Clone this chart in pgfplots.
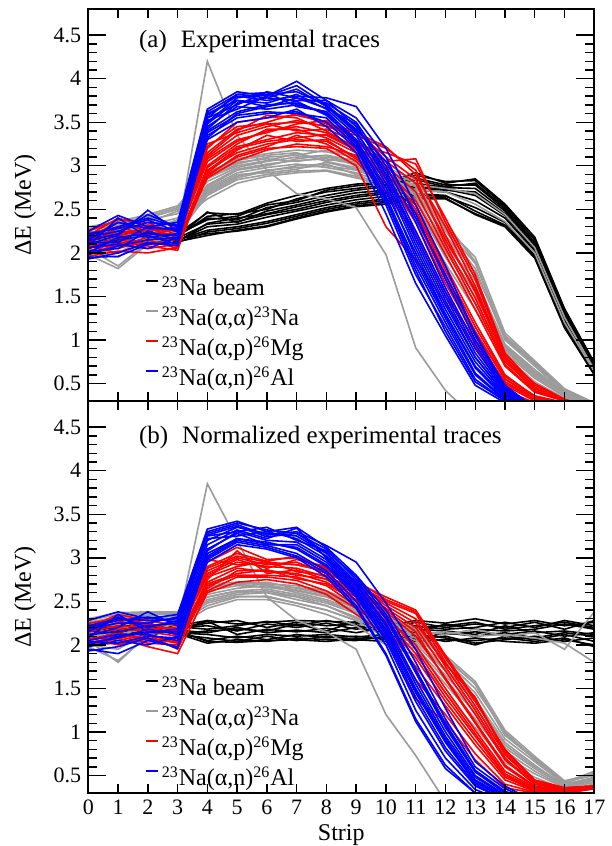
\documentclass[border=0pt]{standalone}
\usepackage{fontspec}
\setmainfont{Liberation Serif}
\usepackage{pgfplots}
\usepackage{pgfplotstable}
\pgfplotsset{compat=1.18}

\definecolor{gr}{RGB}{155,155,155}

% beam traces, one column per event
\pgfplotstableread{
x b1 b2 b3 b4 b5 b6 b7 b8 b9 b10 b11 b12
0 2.12 2.18 2.10 2.21 2.15 2.08 2.22 2.14 2.17 2.11 2.19 2.16
1 2.16 2.12 2.20 2.14 2.22 2.10 2.18 2.25 2.13 2.17 2.09 2.21
2 2.20 2.15 2.24 2.12 2.18 2.26 2.10 2.16 2.22 2.19 2.14 2.23
3 2.15 2.20 2.13 2.22 2.17 2.12 2.19 2.14 2.21 2.16 2.18 2.13
4 2.26 2.40 2.20 2.46 2.33 2.24 2.42 2.30 2.38 2.22 2.47 2.34
5 2.30 2.38 2.26 2.44 2.36 2.28 2.45 2.33 2.42 2.25 2.35 2.40
6 2.36 2.52 2.31 2.57 2.44 2.34 2.50 2.41 2.55 2.30 2.48 2.45
7 2.44 2.58 2.40 2.66 2.50 2.42 2.62 2.48 2.60 2.39 2.55 2.53
8 2.52 2.66 2.48 2.74 2.58 2.50 2.70 2.55 2.72 2.47 2.63 2.60
9 2.58 2.72 2.54 2.79 2.64 2.56 2.74 2.61 2.77 2.53 2.69 2.66
10 2.62 2.76 2.58 2.81 2.68 2.60 2.78 2.65 2.80 2.56 2.72 2.70
11 2.68 2.84 2.64 2.92 2.75 2.66 2.86 2.72 2.89 2.62 2.80 2.77
12 2.66 2.76 2.63 2.80 2.72 2.65 2.78 2.70 2.82 2.62 2.75 2.73
13 2.48 2.80 2.44 2.85 2.70 2.52 2.78 2.60 2.83 2.45 2.74 2.66
14 2.32 2.52 2.30 2.56 2.45 2.35 2.50 2.40 2.54 2.31 2.48 2.43
15 1.96 2.12 1.94 2.18 2.06 1.97 2.10 2.02 2.15 1.95 2.08 2.04
16 1.16 1.32 1.14 1.36 1.25 1.19 1.30 1.22 1.34 1.15 1.28 1.24
17 0.62 0.71 0.60 0.74 0.67 0.63 0.70 0.65 0.73 0.61 0.69 0.66
}\blkA

\pgfplotstableread{
x b1 b2 b3 b4 b5 b6 b7 b8 b9 b10 b11 b12
0 2.12 2.18 2.10 2.21 2.15 2.08 2.22 2.14 2.17 2.11 2.19 2.16
1 2.16 2.12 2.20 2.14 2.22 2.10 2.18 2.25 2.13 2.17 2.09 2.21
2 2.20 2.15 2.24 2.12 2.18 2.26 2.10 2.16 2.22 2.19 2.14 2.23
3 2.15 2.20 2.13 2.22 2.17 2.12 2.19 2.14 2.21 2.16 2.18 2.13
4 2.05 2.22 2.02 2.28 2.14 2.08 2.25 2.12 2.18 2.04 2.27 2.16
5 2.10 2.16 2.06 2.24 2.20 2.04 2.28 2.08 2.22 2.03 2.12 2.18
6 2.06 2.24 2.04 2.26 2.14 2.10 2.20 2.12 2.27 2.05 2.18 2.16
7 2.12 2.20 2.08 2.28 2.17 2.05 2.26 2.10 2.22 2.06 2.15 2.24
8 2.08 2.25 2.06 2.27 2.14 2.10 2.22 2.12 2.28 2.04 2.19 2.16
9 2.10 2.18 2.05 2.26 2.20 2.06 2.24 2.09 2.22 2.07 2.14 2.27
10 2.06 2.24 2.10 2.22 2.14 2.04 2.27 2.12 2.18 2.08 2.20 2.16
11 2.12 2.20 2.04 2.28 2.16 2.08 2.22 2.06 2.26 2.10 2.14 2.18
12 2.08 2.22 2.06 2.25 2.12 2.10 2.18 2.14 2.20 2.04 2.24 2.16
13 2.00 2.26 2.05 2.30 2.15 2.02 2.20 2.10 2.24 2.08 2.18 2.12
14 2.10 2.18 2.08 2.24 2.12 2.06 2.26 2.14 2.20 2.04 2.16 2.22
15 2.06 2.22 2.04 2.28 2.16 2.10 2.20 2.08 2.26 2.02 2.18 2.14
16 2.12 2.26 2.08 2.22 2.10 2.04 2.28 2.14 2.18 2.06 2.24 2.16
17 2.04 2.20 1.98 2.26 2.14 2.08 2.22 2.10 2.28 2.00 2.18 2.12
}\blkB

\pgfplotsset{
  panel/.style={
    scale only axis, width=253pt, height=196pt,
    xmin=0, xmax=17, ymin=0.3, ymax=4.8,
    xtick={0,1,...,17},
    ytick={0.5,1,1.5,2,2.5,3,3.5,4,4.5},
    minor y tick num=4,
    tick align=inside,
    axis on top,
    axis line style={line width=1.1pt},
    every tick/.style={black, line width=0.7pt},
    major tick length=4.5pt, minor tick length=4.5pt,
    ytick style={/pgfplots/major tick length=9pt},
    /pgf/number format/assume math mode=true,
    tick label style={font=\fontsize{11}{13}\selectfont},
    ylabel={ΔE (MeV)},
    ylabel style={at={(axis description cs:-0.125,0.5)}, anchor=center, font=\fontsize{12}{14}\selectfont},
    legend cell align=left,
    legend image code/.code={\draw[#1] (0pt,3.6pt) -- (5.8pt,3.6pt);},
    legend style={draw=none, fill=none, inner sep=0pt, row sep=2.5pt, column sep=1.5pt,
      font=\fontsize{12}{14}\selectfont,
      nodes={inner sep=0pt, text height=10pt, text depth=2.5pt}},
  },
  blk/.style={black, line width=0.8pt, forget plot},
  gry/.style={gr, line width=0.8pt, forget plot},
  rd/.style={red, line width=0.8pt, forget plot},
  bl/.style={blue, line width=0.8pt, forget plot},
  leg/.style={line width=1pt},
}

\begin{document}
\begin{tikzpicture}
\path[use as bounding box] (-44.15pt,4.5pt) rectangle (261.35pt,-418.5pt);

% ---------------- panel (a)
\begin{axis}[panel, at={(0pt,0pt)}, anchor=north west,
  xticklabels={},
  legend style={at={(axis cs:1.9,1.74)}, anchor=north west}]
\pgfplotsinvokeforeach{1,...,12}{\addplot[blk] table[x=x, y=b#1] {\blkA};}
% elastic
\addplot[gry] coordinates {(0,2.05)(1,1.85)(2,2.12)(3,2.22)(4,4.20)(5,3.35)(6,2.95)(7,2.68)(8,2.62)(9,2.52)(10,1.98)(11,0.91)(12,0.42)(13,0.10)};
\addplot[gry] coordinates {(0,2.20)(1,2.26)(2,2.30)(3,2.36)(4,2.62)(5,2.80)(6,2.88)(7,2.92)(8,2.94)(9,2.86)(10,2.80)(11,2.78)(12,2.74)(13,2.68)(14,2.44)(15,2.06)(16,1.26)(17,0.66)};
\addplot[gry] coordinates {(0,2.10)(1,2.15)(2,2.22)(3,2.28)(4,2.68)(5,2.86)(6,2.94)(7,3.00)(8,3.02)(9,2.90)(10,2.76)(11,2.72)(12,2.70)(13,2.56)(14,2.36)(15,2.00)(16,1.20)(17,0.64)};
\addplot[gry] coordinates {(0,2.30)(1,2.36)(2,2.44)(3,2.54)(4,2.92)(5,3.08)(6,3.14)(7,3.18)(8,3.16)(9,3.10)(10,2.96)(11,2.80)(12,2.30)(13,1.95)(14,1.08)(15,0.76)(16,0.44)(17,0.28)};
\addplot[gry] coordinates {(0,2.28)(1,2.34)(2,2.42)(3,2.52)(4,2.85)(5,3.02)(6,3.10)(7,3.12)(8,3.18)(9,3.12)(10,2.98)(11,2.84)(12,2.35)(13,1.90)(14,1.02)(15,0.72)(16,0.42)(17,0.26)};
\addplot[gry] coordinates {(0,2.15)(1,2.05)(2,2.28)(3,2.35)(4,2.78)(5,2.96)(6,3.02)(7,3.06)(8,3.08)(9,3.02)(10,2.90)(11,2.70)(12,2.18)(13,1.72)(14,0.95)(15,0.66)(16,0.40)(17,0.24)};
\addplot[gry] coordinates {(0,2.00)(1,1.95)(2,2.15)(3,2.25)(4,2.70)(5,2.88)(6,2.95)(7,2.98)(8,3.00)(9,2.95)(10,2.82)(11,2.60)(12,2.05)(13,1.55)(14,0.90)(15,0.60)(16,0.38)(17,0.22)};
\addplot[gry] coordinates {(0,2.22)(1,2.30)(2,2.38)(3,2.45)(4,2.88)(5,3.04)(6,3.08)(7,3.05)(8,3.10)(9,3.04)(10,2.92)(11,2.76)(12,2.25)(13,1.82)(14,1.00)(15,0.70)(16,0.40)(17,0.25)};
\addplot[gry] coordinates {(0,2.08)(1,2.12)(2,2.20)(3,2.30)(4,2.74)(5,2.92)(6,2.98)(7,3.02)(8,2.98)(9,2.92)(10,2.80)(11,2.55)(12,1.95)(13,1.42)(14,0.85)(15,0.56)(16,0.35)(17,0.20)};
\addplot[gry] coordinates {(0,1.98)(1,1.82)(2,2.10)(3,2.22)(4,2.66)(5,2.84)(6,2.90)(7,2.94)(8,2.95)(9,2.88)(10,2.72)(11,2.48)(12,1.88)(13,1.35)(14,0.82)(15,0.52)(16,0.33)(17,0.18)};
\addplot[gry] coordinates {(0,2.18)(1,2.24)(2,2.32)(3,2.40)(4,2.82)(5,2.98)(6,3.05)(7,3.10)(8,3.12)(9,3.06)(10,2.94)(11,2.65)(12,2.12)(13,1.62)(14,0.92)(15,0.62)(16,0.38)(17,0.24)};
\addplot[gry] coordinates {(0,2.25)(1,2.20)(2,2.35)(3,2.48)(4,2.90)(5,3.06)(6,3.12)(7,3.15)(8,3.05)(9,2.98)(10,2.86)(11,2.72)(12,2.20)(13,1.78)(14,1.05)(15,0.74)(16,0.43)(17,0.27)};
\addplot[gry] coordinates {(0,2.12)(1,2.18)(2,2.26)(3,2.38)(4,2.76)(5,2.95)(6,3.00)(7,3.08)(8,3.12)(9,3.00)(10,2.84)(11,2.62)(12,2.02)(13,1.50)(14,0.88)(15,0.58)(16,0.36)(17,0.21)};
\addplot[gry] coordinates {(0,2.26)(1,2.32)(2,2.40)(3,2.50)(4,2.86)(5,3.00)(6,3.06)(7,3.14)(8,3.06)(9,3.08)(10,2.90)(11,2.78)(12,2.28)(13,1.88)(14,1.04)(15,0.74)(16,0.42)(17,0.26)};
\addplot[gry] coordinates {(0,2.04)(1,2.00)(2,2.18)(3,2.28)(4,2.72)(5,2.90)(6,2.92)(7,2.96)(8,3.04)(9,2.96)(10,2.86)(11,2.68)(12,2.10)(13,1.68)(14,0.94)(15,0.64)(16,0.39)(17,0.23)};
% (alpha,p)
\addplot[rd] coordinates {(0,2.20)(1,2.40)(2,2.30)(3,2.25)(4,3.20)(5,3.50)(6,3.55)(7,3.58)(8,3.50)(9,3.30)(10,3.05)(11,3.08)(12,2.35)(13,1.70)(14,0.82)(15,0.45)(16,0.30)(17,0.20)};
\addplot[rd] coordinates {(0,2.10)(1,2.05)(2,2.15)(3,2.05)(4,2.95)(5,3.15)(6,3.25)(7,3.30)(8,3.28)(9,3.10)(10,2.80)(11,2.45)(12,1.85)(13,1.20)(14,0.60)(15,0.35)(16,0.28)(17,0.20)};
\addplot[rd] coordinates {(0,2.25)(1,2.38)(2,2.35)(3,2.20)(4,3.10)(5,3.35)(6,3.45)(7,3.52)(8,3.45)(9,3.35)(10,3.20)(11,2.95)(12,2.20)(13,1.55)(14,0.78)(15,0.42)(16,0.30)(17,0.20)};
\addplot[rd] coordinates {(0,1.98)(1,2.10)(2,2.05)(3,2.10)(4,2.90)(5,3.10)(6,3.20)(7,3.22)(8,3.20)(9,3.00)(10,2.30)(11,1.92)(12,1.42)(13,0.92)(14,0.42)(15,0.28)(16,0.25)(17,0.20)};
\addplot[rd] coordinates {(0,2.15)(1,2.22)(2,2.28)(3,2.18)(4,3.05)(5,3.28)(6,3.40)(7,3.45)(8,3.38)(9,3.22)(10,2.95)(11,2.60)(12,1.98)(13,1.35)(14,0.70)(15,0.40)(16,0.30)(17,0.20)};
\addplot[rd] coordinates {(0,2.05)(1,2.15)(2,2.10)(3,2.12)(4,2.98)(5,3.22)(6,3.30)(7,3.38)(8,3.35)(9,3.18)(10,2.88)(11,2.35)(12,1.65)(13,1.05)(14,0.50)(15,0.32)(16,0.27)(17,0.20)};
\addplot[rd] coordinates {(0,2.22)(1,2.30)(2,2.20)(3,2.28)(4,3.15)(5,3.42)(6,3.50)(7,3.60)(8,3.48)(9,3.40)(10,3.10)(11,2.85)(12,2.10)(13,1.48)(14,0.75)(15,0.44)(16,0.31)(17,0.20)};
\addplot[rd] coordinates {(0,2.00)(1,2.08)(2,2.18)(3,2.15)(4,2.92)(5,3.18)(6,3.35)(7,3.28)(8,3.30)(9,3.08)(10,2.75)(11,2.25)(12,1.55)(13,0.98)(14,0.48)(15,0.30)(16,0.26)(17,0.20)};
\addplot[rd] coordinates {(0,2.18)(1,2.35)(2,2.25)(3,2.30)(4,3.25)(5,3.38)(6,3.48)(7,3.40)(8,3.42)(9,3.28)(10,3.00)(11,2.70)(12,2.05)(13,1.42)(14,0.72)(15,0.41)(16,0.30)(17,0.20)};
\addplot[rd] coordinates {(0,2.08)(1,2.00)(2,2.12)(3,2.08)(4,2.88)(5,3.12)(6,3.22)(7,3.35)(8,3.25)(9,3.05)(10,2.70)(11,2.20)(12,1.50)(13,1.00)(14,0.52)(15,0.33)(16,0.27)(17,0.20)};
\addplot[rd] coordinates {(0,2.12)(1,2.25)(2,2.22)(3,2.22)(4,3.08)(5,3.30)(6,3.38)(7,3.48)(8,3.52)(9,3.25)(10,3.15)(11,3.02)(12,2.40)(13,1.75)(14,0.85)(15,0.48)(16,0.32)(17,0.20)};
\addplot[rd] coordinates {(0,2.02)(1,2.12)(2,2.08)(3,2.03)(4,3.00)(5,3.25)(6,3.42)(7,3.42)(8,3.32)(9,3.15)(10,2.90)(11,2.55)(12,1.80)(13,1.15)(14,0.58)(15,0.36)(16,0.28)(17,0.20)};
\addplot[rd] coordinates {(0,2.16)(1,2.28)(2,2.32)(3,2.24)(4,3.22)(5,3.45)(6,3.48)(7,3.50)(8,3.46)(9,3.38)(10,3.22)(11,2.90)(12,2.30)(13,1.62)(14,0.80)(15,0.50)(16,0.32)(17,0.22)};
\addplot[rd] coordinates {(0,2.06)(1,2.18)(2,2.10)(3,2.16)(4,2.86)(5,3.06)(6,3.18)(7,3.25)(8,3.22)(9,3.12)(10,2.98)(11,2.50)(12,1.75)(13,1.10)(14,0.55)(15,0.34)(16,0.28)(17,0.20)};
\addplot[rd] coordinates {(0,2.24)(1,2.20)(2,2.26)(3,2.26)(4,3.12)(5,3.40)(6,3.58)(7,3.55)(8,3.40)(9,3.20)(10,2.85)(11,2.40)(12,1.70)(13,1.08)(14,0.55)(15,0.35)(16,0.28)(17,0.20)};
\addplot[rd] coordinates {(0,1.96)(1,2.02)(2,2.00)(3,2.06)(4,2.94)(5,3.20)(6,3.28)(7,3.32)(8,3.36)(9,3.20)(10,3.05)(11,2.80)(12,2.15)(13,1.58)(14,0.78)(15,0.46)(16,0.31)(17,0.20)};
% (alpha,n)
\addplot[bl] coordinates {(0,2.25)(1,2.43)(2,2.30)(3,2.35)(4,3.65)(5,3.85)(6,3.80)(7,3.97)(8,3.75)(9,3.45)(10,2.95)(11,2.25)(12,1.55)(13,0.90)(14,0.42)(15,0.20)};
\addplot[bl] coordinates {(0,1.95)(1,1.96)(2,2.10)(3,2.12)(4,3.35)(5,3.55)(6,3.60)(7,3.62)(8,3.50)(9,3.20)(10,2.55)(11,1.75)(12,1.15)(13,0.55)(14,0.30)(15,0.20)};
\addplot[bl] coordinates {(0,2.10)(1,2.20)(2,2.49)(3,2.25)(4,3.50)(5,3.78)(6,3.82)(7,3.85)(8,3.70)(9,3.40)(10,2.85)(11,2.10)(12,1.40)(13,0.80)(14,0.38)(15,0.20)};
\addplot[bl] coordinates {(0,2.05)(1,2.15)(2,2.20)(3,2.10)(4,3.40)(5,3.62)(6,3.70)(7,3.72)(8,3.60)(9,3.25)(10,2.65)(11,1.90)(12,1.25)(13,0.62)(14,0.32)(15,0.20)};
\addplot[bl] coordinates {(0,2.20)(1,2.30)(2,2.40)(3,2.30)(4,3.58)(5,3.80)(6,3.75)(7,3.80)(8,3.78)(9,3.68)(10,3.20)(11,2.55)(12,1.85)(13,1.05)(14,0.48)(15,0.22)};
\addplot[bl] coordinates {(0,1.98)(1,2.08)(2,2.15)(3,2.18)(4,3.30)(5,3.50)(6,3.55)(7,3.65)(8,3.45)(9,3.15)(10,2.45)(11,1.65)(12,1.05)(13,0.48)(14,0.28)(15,0.20)};
\addplot[bl] coordinates {(0,2.15)(1,2.35)(2,2.28)(3,2.28)(4,3.55)(5,3.70)(6,3.85)(7,3.78)(8,3.72)(9,3.50)(10,3.00)(11,2.35)(12,1.60)(13,0.95)(14,0.44)(15,0.21)};
\addplot[bl] coordinates {(0,2.02)(1,2.05)(2,2.25)(3,2.15)(4,3.45)(5,3.68)(6,3.65)(7,3.70)(8,3.62)(9,3.30)(10,2.70)(11,2.00)(12,1.30)(13,0.70)(14,0.35)(15,0.20)};
\addplot[bl] coordinates {(0,2.18)(1,2.25)(2,2.35)(3,2.32)(4,3.62)(5,3.82)(6,3.78)(7,3.88)(8,3.68)(9,3.38)(10,2.90)(11,2.20)(12,1.50)(13,0.85)(14,0.40)(15,0.20)};
\addplot[bl] coordinates {(0,1.93)(1,2.00)(2,2.12)(3,2.08)(4,3.38)(5,3.58)(6,3.62)(7,3.60)(8,3.55)(9,3.22)(10,2.60)(11,1.80)(12,1.10)(13,0.52)(14,0.30)(15,0.20)};
\addplot[bl] coordinates {(0,2.08)(1,2.40)(2,2.18)(3,2.22)(4,3.48)(5,3.75)(6,3.72)(7,3.82)(8,3.65)(9,3.35)(10,2.80)(11,2.05)(12,1.35)(13,0.75)(14,0.36)(15,0.20)};
\addplot[bl] coordinates {(0,2.12)(1,2.12)(2,2.30)(3,2.26)(4,3.52)(5,3.65)(6,3.80)(7,3.92)(8,3.70)(9,3.42)(10,3.05)(11,2.45)(12,1.70)(13,1.00)(14,0.46)(15,0.22)};
\addplot[bl] coordinates {(0,2.00)(1,2.18)(2,2.22)(3,2.20)(4,3.42)(5,3.72)(6,3.78)(7,3.75)(8,3.75)(9,3.55)(10,3.10)(11,2.40)(12,1.75)(13,1.08)(14,0.45)(15,0.22)};
\addplot[bl] coordinates {(0,2.22)(1,2.28)(2,2.38)(3,2.24)(4,3.60)(5,3.75)(6,3.68)(7,3.74)(8,3.58)(9,3.28)(10,2.62)(11,1.85)(12,1.20)(13,0.60)(14,0.31)(15,0.20)};
\addplot[bl] coordinates {(0,2.06)(1,2.10)(2,2.05)(3,2.18)(4,3.32)(5,3.60)(6,3.68)(7,3.78)(8,3.66)(9,3.48)(10,2.90)(11,2.15)(12,1.45)(13,0.80)(14,0.38)(15,0.20)};
\addplot[bl] coordinates {(0,2.14)(1,2.22)(2,2.44)(3,2.30)(4,3.55)(5,3.82)(6,3.84)(7,3.68)(8,3.62)(9,3.30)(10,2.75)(11,1.95)(12,1.28)(13,0.68)(14,0.33)(15,0.20)};
\addlegendimage{black, leg}
\addlegendentry{\textsuperscript{23}Na beam}
\addlegendimage{gr, leg}
\addlegendentry{\textsuperscript{23}Na(α,α)\textsuperscript{23}Na}
\addlegendimage{red, leg}
\addlegendentry{\textsuperscript{23}Na(α,p)\textsuperscript{26}Mg}
\addlegendimage{blue, leg}
\addlegendentry{\textsuperscript{23}Na(α,n)\textsuperscript{26}Al}
\node[anchor=base west, font=\fontsize{12.5}{14}\selectfont] at (axis cs:1.47,4.36) {(a)\hspace{7pt}Experimental traces};
\end{axis}

% ---------------- panel (b)
\begin{axis}[panel, at={(0pt,-196pt)}, anchor=north west,
  xlabel={Strip},
  xlabel style={at={(axis description cs:0.5,0)}, anchor=base, yshift=-23.9pt, font=\fontsize{12}{14}\selectfont},
  legend style={at={(axis cs:1.9,1.65)}, anchor=north west}]
\pgfplotsinvokeforeach{1,...,12}{\addplot[blk] table[x=x, y=b#1] {\blkB};}
% elastic
\addplot[gry] coordinates {(0,2.05)(1,1.80)(2,2.12)(3,2.22)(4,3.85)(5,3.20)(6,2.55)(7,2.28)(8,2.15)(9,1.95)(10,1.20)(11,0.73)(12,0.20)};
\addplot[gry] coordinates {(0,2.20)(1,2.25)(2,2.30)(3,2.34)(4,2.55)(5,2.62)(6,2.60)(7,2.55)(8,2.45)(9,2.30)(10,2.20)(11,2.16)(12,2.12)(13,2.18)(14,2.10)(15,2.14)(16,1.95)(17,2.38)};
\addplot[gry] coordinates {(0,2.10)(1,2.15)(2,2.22)(3,2.26)(4,2.48)(5,2.56)(6,2.55)(7,2.48)(8,2.40)(9,2.28)(10,2.18)(11,2.12)(12,2.15)(13,2.10)(14,2.12)(15,2.08)(16,2.02)(17,1.80)};
\addplot[gry] coordinates {(0,2.30)(1,2.37)(2,2.38)(3,2.38)(4,2.70)(5,2.72)(6,2.70)(7,2.68)(8,2.62)(9,2.48)(10,2.30)(11,2.18)(12,1.88)(13,1.58)(14,1.02)(15,0.72)(16,0.44)(17,0.52)};
\addplot[gry] coordinates {(0,2.28)(1,2.35)(2,2.36)(3,2.37)(4,2.65)(5,2.70)(6,2.72)(7,2.65)(8,2.58)(9,2.45)(10,2.32)(11,2.20)(12,1.85)(13,1.55)(14,0.98)(15,0.70)(16,0.42)(17,0.55)};
\addplot[gry] coordinates {(0,2.15)(1,2.05)(2,2.28)(3,2.35)(4,2.55)(5,2.62)(6,2.64)(7,2.58)(8,2.50)(9,2.38)(10,2.18)(11,2.05)(12,1.70)(13,1.35)(14,0.85)(15,0.60)(16,0.40)(17,0.48)};
\addplot[gry] coordinates {(0,2.00)(1,1.95)(2,2.15)(3,2.25)(4,2.45)(5,2.55)(6,2.56)(7,2.48)(8,2.40)(9,2.28)(10,2.08)(11,1.95)(12,1.55)(13,1.15)(14,0.72)(15,0.52)(16,0.36)(17,0.42)};
\addplot[gry] coordinates {(0,2.22)(1,2.30)(2,2.34)(3,2.36)(4,2.62)(5,2.68)(6,2.66)(7,2.62)(8,2.55)(9,2.42)(10,2.25)(11,2.12)(12,1.78)(13,1.45)(14,0.92)(15,0.66)(16,0.40)(17,0.46)};
\addplot[gry] coordinates {(0,2.08)(1,2.12)(2,2.20)(3,2.30)(4,2.50)(5,2.58)(6,2.60)(7,2.52)(8,2.45)(9,2.32)(10,2.12)(11,1.98)(12,1.60)(13,1.22)(14,0.78)(15,0.55)(16,0.37)(17,0.44)};
\addplot[gry] coordinates {(0,1.98)(1,1.82)(2,2.10)(3,2.22)(4,2.42)(5,2.52)(6,2.52)(7,2.45)(8,2.35)(9,2.22)(10,2.00)(11,1.88)(12,1.45)(13,1.05)(14,0.65)(15,0.48)(16,0.34)(17,0.40)};
\addplot[gry] coordinates {(0,2.18)(1,2.24)(2,2.32)(3,2.33)(4,2.58)(5,2.65)(6,2.68)(7,2.60)(8,2.52)(9,2.40)(10,2.22)(11,2.08)(12,1.72)(13,1.38)(14,0.88)(15,0.62)(16,0.38)(17,0.45)};
\addplot[gry] coordinates {(0,2.25)(1,2.20)(2,2.35)(3,2.36)(4,2.68)(5,2.70)(6,2.66)(7,2.66)(8,2.60)(9,2.46)(10,2.28)(11,2.15)(12,1.82)(13,1.50)(14,1.00)(15,0.68)(16,0.43)(17,0.50)};
\addplot[gry] coordinates {(0,2.12)(1,2.18)(2,2.26)(3,2.32)(4,2.52)(5,2.60)(6,2.62)(7,2.56)(8,2.48)(9,2.36)(10,2.15)(11,2.02)(12,1.65)(13,1.28)(14,0.82)(15,0.58)(16,0.38)(17,0.47)};
\addplot[gry] coordinates {(0,2.26)(1,2.32)(2,2.37)(3,2.38)(4,2.66)(5,2.71)(6,2.69)(7,2.63)(8,2.56)(9,2.44)(10,2.26)(11,2.16)(12,1.85)(13,1.55)(14,0.96)(15,0.69)(16,0.41)(17,0.53)};
% (alpha,p)
\addplot[rd] coordinates {(0,2.20)(1,2.35)(2,2.28)(3,2.22)(4,2.95)(5,3.12)(6,2.98)(7,3.00)(8,2.88)(9,2.72)(10,2.55)(11,2.40)(12,1.88)(13,1.38)(14,0.78)(15,0.44)(16,0.36)(17,0.38)};
\addplot[rd] coordinates {(0,2.10)(1,2.05)(2,2.12)(3,1.95)(4,2.68)(5,2.80)(6,2.80)(7,2.78)(8,2.68)(9,2.45)(10,2.20)(11,1.75)(12,1.30)(13,0.85)(14,0.45)(15,0.32)(16,0.30)(17,0.35)};
\addplot[rd] coordinates {(0,2.25)(1,2.30)(2,2.25)(3,2.15)(4,2.85)(5,3.00)(6,2.92)(7,2.95)(8,2.82)(9,2.68)(10,2.48)(11,2.30)(12,1.75)(13,1.25)(14,0.70)(15,0.40)(16,0.34)(17,0.37)};
\addplot[rd] coordinates {(0,1.98)(1,2.08)(2,1.98)(3,1.90)(4,2.60)(5,2.72)(6,2.75)(7,2.70)(8,2.58)(9,2.35)(10,2.12)(11,1.38)(12,1.12)(13,0.68)(14,0.36)(15,0.30)(16,0.30)(17,0.35)};
\addplot[rd] coordinates {(0,2.15)(1,2.22)(2,2.20)(3,2.12)(4,2.80)(5,2.95)(6,2.90)(7,2.88)(8,2.78)(9,2.60)(10,2.38)(11,2.10)(12,1.62)(13,1.12)(14,0.62)(15,0.38)(16,0.33)(17,0.37)};
\addplot[rd] coordinates {(0,2.05)(1,2.12)(2,2.05)(3,2.08)(4,2.72)(5,2.88)(6,2.84)(7,2.82)(8,2.72)(9,2.52)(10,2.28)(11,1.90)(12,1.40)(13,0.95)(14,0.50)(15,0.34)(16,0.31)(17,0.36)};
\addplot[rd] coordinates {(0,2.22)(1,2.28)(2,2.18)(3,2.20)(4,2.90)(5,3.05)(6,2.96)(7,3.02)(8,2.86)(9,2.70)(10,2.50)(11,2.36)(12,1.80)(13,1.30)(14,0.74)(15,0.42)(16,0.35)(17,0.38)};
\addplot[rd] coordinates {(0,2.00)(1,2.02)(2,2.10)(3,2.05)(4,2.65)(5,2.85)(6,2.86)(7,2.76)(8,2.70)(9,2.50)(10,2.25)(11,1.85)(12,1.35)(13,0.90)(14,0.48)(15,0.33)(16,0.31)(17,0.36)};
\addplot[rd] coordinates {(0,2.18)(1,2.32)(2,2.22)(3,2.18)(4,2.98)(5,2.92)(6,2.94)(7,2.92)(8,2.84)(9,2.65)(10,2.42)(11,2.20)(12,1.70)(13,1.20)(14,0.68)(15,0.40)(16,0.34)(17,0.37)};
\addplot[rd] coordinates {(0,2.08)(1,2.00)(2,2.08)(3,2.02)(4,2.62)(5,2.78)(6,2.78)(7,2.74)(8,2.62)(9,2.42)(10,2.18)(11,1.60)(12,1.20)(13,0.75)(14,0.40)(15,0.31)(16,0.30)(17,0.35)};
\addplot[rd] coordinates {(0,2.12)(1,2.18)(2,2.15)(3,2.10)(4,2.82)(5,2.98)(6,2.88)(7,2.98)(8,2.90)(9,2.74)(10,2.52)(11,2.38)(12,1.85)(13,1.35)(14,0.80)(15,0.45)(16,0.36)(17,0.38)};
\addplot[rd] coordinates {(0,2.02)(1,2.10)(2,2.02)(3,2.00)(4,2.75)(5,3.08)(6,2.82)(7,2.86)(8,2.75)(9,2.55)(10,2.32)(11,2.00)(12,1.50)(13,1.02)(14,0.55)(15,0.36)(16,0.32)(17,0.36)};
\addplot[rd] coordinates {(0,2.16)(1,2.26)(2,2.24)(3,2.16)(4,2.88)(5,3.02)(6,2.95)(7,2.92)(8,2.86)(9,2.70)(10,2.45)(11,2.25)(12,1.78)(13,1.40)(14,0.75)(15,0.42)(16,0.35)(17,0.37)};
\addplot[rd] coordinates {(0,2.06)(1,2.14)(2,2.06)(3,2.04)(4,2.70)(5,2.82)(6,2.86)(7,2.80)(8,2.76)(9,2.58)(10,2.35)(11,1.95)(12,1.45)(13,0.98)(14,0.52)(15,0.35)(16,0.31)(17,0.36)};
\addplot[rd] coordinates {(0,2.24)(1,2.20)(2,2.16)(3,2.14)(4,2.78)(5,2.90)(6,2.96)(7,2.84)(8,2.80)(9,2.62)(10,2.40)(11,2.15)(12,1.60)(13,1.10)(14,0.60)(15,0.37)(16,0.33)(17,0.37)};
% (alpha,n)
\addplot[bl] coordinates {(0,2.28)(1,2.38)(2,2.30)(3,2.35)(4,3.33)(5,3.42)(6,3.30)(7,3.35)(8,3.12)(9,2.80)(10,2.40)(11,1.80)(12,1.15)(13,0.60)(14,0.35)(15,0.20)};
\addplot[bl] coordinates {(0,1.95)(1,1.90)(2,2.05)(3,1.98)(4,2.98)(5,3.18)(6,3.12)(7,3.02)(8,2.82)(9,2.45)(10,1.90)(11,1.15)(12,0.62)(13,0.30)(14,0.20)};
\addplot[bl] coordinates {(0,2.10)(1,2.20)(2,2.38)(3,2.22)(4,3.20)(5,3.35)(6,3.28)(7,3.25)(8,3.05)(9,2.70)(10,2.25)(11,1.60)(12,1.00)(13,0.50)(14,0.28)(15,0.20)};
\addplot[bl] coordinates {(0,2.05)(1,2.12)(2,2.12)(3,2.05)(4,3.05)(5,3.22)(6,3.18)(7,3.10)(8,2.90)(9,2.55)(10,2.05)(11,1.35)(12,0.78)(13,0.38)(14,0.22)};
\addplot[bl] coordinates {(0,2.22)(1,2.30)(2,2.28)(3,2.30)(4,3.28)(5,3.38)(6,3.26)(7,3.30)(8,3.14)(9,2.95)(10,2.48)(11,1.95)(12,1.27)(13,0.66)(14,0.38)(15,0.20)};
\addplot[bl] coordinates {(0,1.98)(1,2.05)(2,2.00)(3,2.10)(4,2.95)(5,3.15)(6,3.10)(7,3.00)(8,2.78)(9,2.42)(10,1.88)(11,1.12)(12,0.58)(13,0.30)(14,0.20)};
\addplot[bl] coordinates {(0,2.15)(1,2.32)(2,2.20)(3,2.28)(4,3.25)(5,3.30)(6,3.35)(7,3.20)(8,3.08)(9,2.78)(10,2.35)(11,1.72)(12,1.10)(13,0.56)(14,0.32)(15,0.20)};
\addplot[bl] coordinates {(0,2.02)(1,2.08)(2,2.18)(3,2.12)(4,3.10)(5,3.28)(6,3.15)(7,3.15)(8,2.95)(9,2.60)(10,2.12)(11,1.45)(12,0.88)(13,0.42)(14,0.24)};
\addplot[bl] coordinates {(0,2.18)(1,2.25)(2,2.25)(3,2.32)(4,3.30)(5,3.40)(6,3.32)(7,3.28)(8,3.10)(9,2.75)(10,2.30)(11,1.68)(12,1.05)(13,0.54)(14,0.30)(15,0.20)};
\addplot[bl] coordinates {(0,1.93)(1,1.98)(2,2.08)(3,1.96)(4,3.00)(5,3.20)(6,3.14)(7,3.05)(8,2.85)(9,2.50)(10,2.00)(11,1.25)(12,0.70)(13,0.34)(14,0.20)};
\addplot[bl] coordinates {(0,2.08)(1,2.35)(2,2.15)(3,2.18)(4,3.15)(5,3.32)(6,3.22)(7,3.34)(8,3.00)(9,2.65)(10,2.18)(11,1.50)(12,0.92)(13,0.45)(14,0.26)};
\addplot[bl] coordinates {(0,2.12)(1,2.15)(2,2.22)(3,2.25)(4,3.22)(5,3.25)(6,3.30)(7,3.22)(8,3.02)(9,2.68)(10,2.22)(11,1.55)(12,0.95)(13,0.48)(14,0.27)};
\addplot[bl] coordinates {(0,2.00)(1,2.10)(2,2.14)(3,2.15)(4,3.08)(5,3.30)(6,3.20)(7,3.18)(8,2.98)(9,2.62)(10,2.15)(11,1.48)(12,0.90)(13,0.44)(14,0.25)};
\addplot[bl] coordinates {(0,2.20)(1,2.28)(2,2.32)(3,2.26)(4,3.26)(5,3.36)(6,3.24)(7,3.28)(8,3.06)(9,2.72)(10,2.32)(11,1.70)(12,1.08)(13,0.55)(14,0.30)(15,0.20)};
\addplot[bl] coordinates {(0,2.04)(1,2.02)(2,2.10)(3,2.08)(4,3.02)(5,3.22)(6,3.16)(7,3.12)(8,2.92)(9,2.58)(10,2.08)(11,1.40)(12,0.82)(13,0.40)(14,0.22)};
\addlegendimage{black, leg}
\addlegendentry{\textsuperscript{23}Na beam}
\addlegendimage{gr, leg}
\addlegendentry{\textsuperscript{23}Na(α,α)\textsuperscript{23}Na}
\addlegendimage{red, leg}
\addlegendentry{\textsuperscript{23}Na(α,p)\textsuperscript{26}Mg}
\addlegendimage{blue, leg}
\addlegendentry{\textsuperscript{23}Na(α,n)\textsuperscript{26}Al}
\node[anchor=base west, font=\fontsize{12.5}{14}\selectfont] at (axis cs:1.47,4.31) {(b)\hspace{7pt}Normalized experimental traces};
\end{axis}
\end{tikzpicture}
\end{document}
